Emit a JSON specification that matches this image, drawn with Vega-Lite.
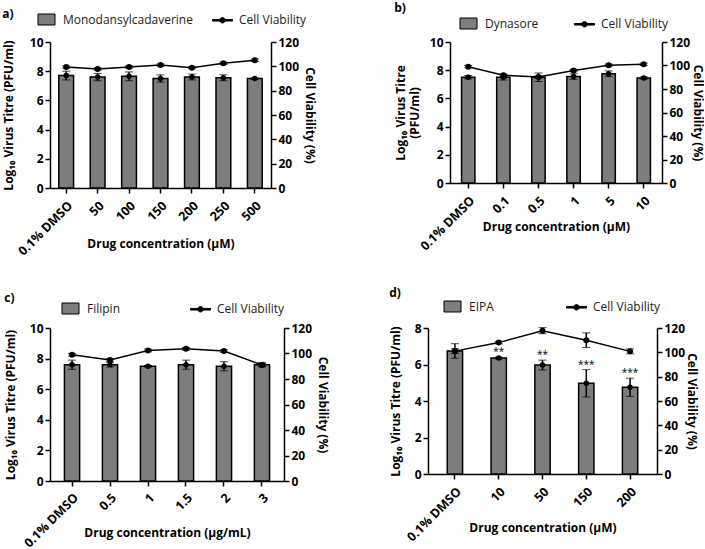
{
  "$schema": "https://vega.github.io/schema/vega-lite/v6.json",
  "padding": {"left": 2, "top": 2, "right": 0, "bottom": 0},
  "background": "white",
  "datasets": {
    "a": [
      {"conc": "0.1% DMSO", "titre": 7.7, "terr": 0.3, "via": 99.4, "verr": 1},
      {"conc": "50", "titre": 7.6, "terr": 0.25, "via": 97.8, "verr": 1},
      {"conc": "100", "titre": 7.65, "terr": 0.3, "via": 99.4, "verr": 1},
      {"conc": "150", "titre": 7.5, "terr": 0.25, "via": 101, "verr": 1},
      {"conc": "200", "titre": 7.6, "terr": 0.2, "via": 98.9, "verr": 1},
      {"conc": "250", "titre": 7.55, "terr": 0.2, "via": 102.5, "verr": 1},
      {"conc": "500", "titre": 7.5, "terr": 0.05, "via": 105, "verr": 1}
    ],
    "b": [
      {"conc": "0.1% DMSO", "titre": 7.5, "terr": 0.12, "via": 99, "verr": 1},
      {"conc": "0.1", "titre": 7.5, "terr": 0.2, "via": 91.7, "verr": 1},
      {"conc": "0.5", "titre": 7.5, "terr": 0.3, "via": 90.3, "verr": 1},
      {"conc": "1", "titre": 7.55, "terr": 0.2, "via": 95.7, "verr": 1},
      {"conc": "5", "titre": 7.75, "terr": 0.2, "via": 100.2, "verr": 1},
      {"conc": "10", "titre": 7.45, "terr": 0.08, "via": 101, "verr": 1}
    ],
    "c": [
      {"conc": "0.1% DMSO", "titre": 7.6, "terr": 0.3, "via": 99, "verr": 1},
      {"conc": "0.5", "titre": 7.6, "terr": 0.15, "via": 95, "verr": 1},
      {"conc": "1", "titre": 7.5, "terr": 0.05, "via": 102.4, "verr": 1},
      {"conc": "1.5", "titre": 7.6, "terr": 0.3, "via": 103.7, "verr": 1},
      {"conc": "2", "titre": 7.5, "terr": 0.3, "via": 101.9, "verr": 1},
      {"conc": "3", "titre": 7.6, "terr": 0.15, "via": 91, "verr": 1}
    ],
    "d": [
      {"conc": "0.1% DMSO", "titre": 6.74, "terr": 0.4, "via": 101, "verr": 2, "star": ""},
      {"conc": "10", "titre": 6.35, "terr": 0.05, "via": 108, "verr": 1, "star": "**"},
      {"conc": "50", "titre": 5.97, "terr": 0.27, "via": 117.8, "verr": 2.5, "star": "**"},
      {"conc": "150", "titre": 4.97, "terr": 0.75, "via": 110, "verr": 6, "star": "***"},
      {"conc": "200", "titre": 4.75, "terr": 0.5, "via": 100.8, "verr": 2, "star": "***"}
    ]
  },
  "vconcat": [
    {
      "hconcat": [
        {
          "width": 221, "height": 146,
          "title": {"text": "a)", "offset": -12},
          "data": {"name": "a"},
          "encoding": {"x": {"field": "conc", "type": "nominal", "sort": null, "scale": {"paddingInner": 0.53, "paddingOuter": 0.28}, "axis": {"title": "Drug concentration (μM)", "labelAngle": -45, "labelPadding": 6, "labelFontSize": 12.5, "titleY": 50}}},
          "layer": [
            {"encoding": {"y": {"field": "titre", "type": "quantitative", "scale": {"domain": [0, 10]}, "axis": {"title": "Log₁₀ Virus Titre (PFU/ml)", "values": [0, 2, 4, 6, 8, 10], "titlePadding": 14}}},
             "layer": [
              {"mark": {"type": "bar", "stroke": "black", "strokeWidth": 1.5},
               "encoding": {
                 "color": {"datum": "Monodansylcadaverine", "scale": {"domain": ["Monodansylcadaverine", "Cell Viability"], "range": ["#7d7d7d", "black"]},
                   "legend": {"orient": "none", "legendX": -14, "legendY": -33, "direction": "horizontal", "title": null, "columnPadding": 17,
                     "symbolType": {"expr": "datum.value === 'Cell Viability' ? 'M-1,-0.08H1V0.08H-1Z M0.27,0A0.27,0.27 0 1 1 -0.27,0A0.27,0.27 0 1 1 0.27,0Z' : 'M-0.85,-0.55H0.85V0.55H-0.85Z'"}}}}},
              {"mark": {"type": "errorbar", "ticks": {"size": 8}, "rule": {"strokeWidth": 1.5}, "color": "black"},
               "encoding": {"yError": {"field": "terr"}}},
              {"mark": {"type": "point", "filled": true, "size": 30, "color": "black", "opacity": 1}}
            ]},
            {"encoding": {"y": {"field": "via", "type": "quantitative", "scale": {"domain": [0, 120]}, "axis": {"orient": "right", "title": "Cell  Viability (%)", "values": [0, 20, 40, 60, 80, 100, 120]}}},
             "layer": [
              {"mark": {"type": "line", "strokeWidth": 1.5, "color": "black"}},
              {"mark": {"type": "errorbar", "ticks": {"size": 8}, "rule": {"strokeWidth": 1.5}, "color": "black"},
               "encoding": {"yError": {"field": "verr"}}},
              {"mark": {"type": "point", "filled": true, "size": 36, "color": "black", "opacity": 1}}
            ]}
          ],
          "resolve": {"scale": {"y": "independent"}}
        },
        {
          "width": 212, "height": 141,
          "title": {"text": "b)", "offset": -2},
          "data": {"name": "b"},
          "encoding": {"x": {"field": "conc", "type": "nominal", "sort": null, "scale": {"paddingInner": 0.62, "paddingOuter": 0.33}, "axis": {"title": "Drug concentration (μM)", "labelAngle": -45, "labelPadding": 6, "labelFontSize": 12.5, "titleY": 38}}},
          "layer": [
            {"encoding": {"y": {"field": "titre", "type": "quantitative", "scale": {"domain": [0, 10]}, "axis": {"title": ["Log₁₀ Virus Titre", "(PFU/ml)"], "values": [0, 2, 4, 6, 8, 10], "titlePadding": 8}}},
             "layer": [
              {"mark": {"type": "bar", "stroke": "black", "strokeWidth": 1.5},
               "encoding": {
                 "color": {"datum": "Dynasore", "scale": {"domain": ["Dynasore", "Cell Viability"], "range": ["#7d7d7d", "black"]},
                   "legend": {"orient": "none", "legendX": 8, "legendY": -29, "direction": "horizontal", "title": null, "columnPadding": 33,
                     "symbolType": {"expr": "datum.value === 'Cell Viability' ? 'M-1,-0.08H1V0.08H-1Z M0.27,0A0.27,0.27 0 1 1 -0.27,0A0.27,0.27 0 1 1 0.27,0Z' : 'M-0.85,-0.55H0.85V0.55H-0.85Z'"}}}}},
              {"mark": {"type": "errorbar", "ticks": {"size": 8}, "rule": {"strokeWidth": 1.5}, "color": "black"},
               "encoding": {"yError": {"field": "terr"}}},
              {"mark": {"type": "point", "filled": true, "size": 30, "color": "black", "opacity": 1}}
            ]},
            {"encoding": {"y": {"field": "via", "type": "quantitative", "scale": {"domain": [0, 120]}, "axis": {"orient": "right", "title": "Cell  Viability (%)", "values": [0, 20, 40, 60, 80, 100, 120], "titlePadding": 1}}},
             "layer": [
              {"mark": {"type": "line", "strokeWidth": 1.5, "color": "black"}},
              {"mark": {"type": "errorbar", "ticks": {"size": 8}, "rule": {"strokeWidth": 1.5}, "color": "black"},
               "encoding": {"yError": {"field": "verr"}}},
              {"mark": {"type": "point", "filled": true, "size": 36, "color": "black", "opacity": 1}}
            ]}
          ],
          "resolve": {"scale": {"y": "independent"}}
        }
      ],
      "spacing": 78,
      "resolve": {"scale": {"color": "independent"}, "legend": {"color": "independent"}}
    },
    {
      "hconcat": [
        {
          "width": 234, "height": 153,
          "title": {"text": "c)", "offset": -7},
          "data": {"name": "c"},
          "encoding": {"x": {"field": "conc", "type": "nominal", "sort": null, "scale": {"paddingInner": 0.6, "paddingOuter": 0.38}, "axis": {"title": "Drug concentration (μg/mL)", "labelAngle": -45, "labelPadding": 5, "labelFontSize": 12.5, "titleY": 46}}},
          "layer": [
            {"encoding": {"y": {"field": "titre", "type": "quantitative", "scale": {"domain": [0, 10]}, "axis": {"title": "Log₁₀ Virus Titre (PFU/ml)", "values": [0, 2, 4, 6, 8, 10], "titlePadding": 12}}},
             "layer": [
              {"mark": {"type": "bar", "stroke": "black", "strokeWidth": 1.5},
               "encoding": {
                 "color": {"datum": "Filipin", "scale": {"domain": ["Filipin", "Cell Viability"], "range": ["#7d7d7d", "black"]},
                   "legend": {"orient": "none", "legendX": 10, "legendY": -30, "direction": "horizontal", "title": null, "columnPadding": 67,
                     "symbolType": {"expr": "datum.value === 'Cell Viability' ? 'M-1,-0.08H1V0.08H-1Z M0.27,0A0.27,0.27 0 1 1 -0.27,0A0.27,0.27 0 1 1 0.27,0Z' : 'M-0.85,-0.55H0.85V0.55H-0.85Z'"}}}}},
              {"mark": {"type": "errorbar", "ticks": {"size": 8}, "rule": {"strokeWidth": 1.5}, "color": "black"},
               "encoding": {"yError": {"field": "terr"}}},
              {"mark": {"type": "point", "filled": true, "size": 30, "color": "black", "opacity": 1}}
            ]},
            {"encoding": {"y": {"field": "via", "type": "quantitative", "scale": {"domain": [0, 120]}, "axis": {"orient": "right", "title": "Cell  Viability (%)", "values": [0, 20, 40, 60, 80, 100, 120]}}},
             "layer": [
              {"mark": {"type": "line", "strokeWidth": 1.5, "color": "black"}},
              {"mark": {"type": "errorbar", "ticks": {"size": 8}, "rule": {"strokeWidth": 1.5}, "color": "black"},
               "encoding": {"yError": {"field": "verr"}}},
              {"mark": {"type": "point", "filled": true, "size": 36, "color": "black", "opacity": 1}}
            ]}
          ],
          "resolve": {"scale": {"y": "independent"}}
        },
        {
          "width": 229, "height": 146,
          "title": {"text": "d)", "offset": -4},
          "data": {"name": "d"},
          "encoding": {"x": {"field": "conc", "type": "nominal", "sort": null, "scale": {"paddingInner": 0.65, "paddingOuter": 0.44}, "axis": {"title": "Drug concentration (μM)", "labelAngle": -45, "labelPadding": 6, "labelFontSize": 12.5, "titleY": 48}}},
          "layer": [
            {"encoding": {"y": {"field": "titre", "type": "quantitative", "scale": {"domain": [0, 8]}, "axis": {"title": "Log₁₀ Virus Titre (PFU/ml)", "values": [0, 2, 4, 6, 8], "titlePadding": 12}}},
             "layer": [
              {"mark": {"type": "bar", "stroke": "black", "strokeWidth": 1.5},
               "encoding": {
                 "color": {"datum": "EIPA", "scale": {"domain": ["EIPA", "Cell Viability"], "range": ["#7d7d7d", "black"]},
                   "legend": {"orient": "none", "legendX": 14, "legendY": -32, "direction": "horizontal", "title": null, "columnPadding": 70,
                     "symbolType": {"expr": "datum.value === 'Cell Viability' ? 'M-1,-0.08H1V0.08H-1Z M0.27,0A0.27,0.27 0 1 1 -0.27,0A0.27,0.27 0 1 1 0.27,0Z' : 'M-0.85,-0.55H0.85V0.55H-0.85Z'"}}}}},
              {"mark": {"type": "errorbar", "ticks": {"size": 8}, "rule": {"strokeWidth": 1.5}, "color": "black"},
               "encoding": {"yError": {"field": "terr"}}},
              {"mark": {"type": "point", "filled": true, "size": 30, "color": "black", "opacity": 1}},
              {"transform": [{"calculate": "datum.titre + datum.terr", "as": "upper"}],
               "mark": {"type": "text", "baseline": "alphabetic", "dy": -2, "fontSize": 10, "font": "Open Sans", "color": "black"},
               "encoding": {"y": {"field": "upper", "type": "quantitative"}, "text": {"field": "star"}}}
            ]},
            {"encoding": {"y": {"field": "via", "type": "quantitative", "scale": {"domain": [0, 120]}, "axis": {"orient": "right", "title": "Cell  Viability (%)", "values": [0, 20, 40, 60, 80, 100, 120], "titlePadding": 0}}},
             "layer": [
              {"mark": {"type": "line", "strokeWidth": 1.5, "color": "black"}},
              {"mark": {"type": "errorbar", "ticks": {"size": 8}, "rule": {"strokeWidth": 1.5}, "color": "black"},
               "encoding": {"yError": {"field": "verr"}}},
              {"mark": {"type": "point", "filled": true, "size": 36, "color": "black", "opacity": 1}}
            ]}
          ],
          "resolve": {"scale": {"y": "independent"}}
        }
      ],
      "spacing": 60,
      "resolve": {"scale": {"color": "independent"}, "legend": {"color": "independent"}}
    }
  ],
  "spacing": 29,
  "resolve": {"scale": {"color": "independent"}, "legend": {"color": "independent"}},
  "config": {
    "view": {"stroke": null},
    "font": "Open Sans",
    "axis": {"grid": false, "domainColor": "black", "domainWidth": 1.5, "tickColor": "black", "tickWidth": 1.5, "tickSize": 5, "labelOverlap": false,
      "labelFont": "Open Sans", "labelFontWeight": "bold", "labelFontSize": 12, "labelColor": "black", "labelPadding": 2,
      "titleFont": "Open Sans", "titleFontWeight": "bold", "titleFontSize": 12, "titleColor": "black"},
    "legend": {"symbolSize": 400, "symbolStrokeColor": "black", "symbolStrokeWidth": 1, "symbolOpacity": 1, "labelFont": "Open Sans", "labelFontSize": 12, "labelColor": "#222", "labelOffset": 6},
    "title": {"anchor": "start", "frame": "bounds", "font": "Open Sans", "fontSize": 12, "fontWeight": "bold", "color": "black"}
  }
}
